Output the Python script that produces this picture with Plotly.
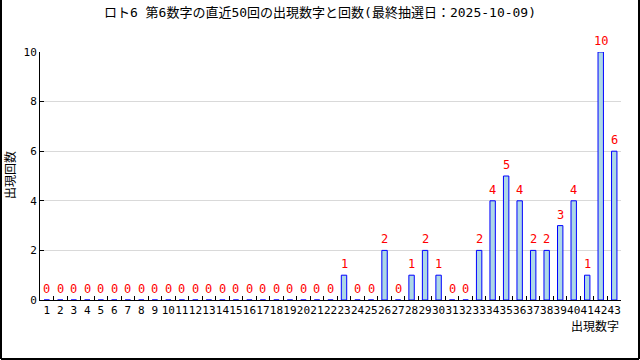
import plotly.graph_objects as go

numbers = list(range(1, 44))
tick_labels = [str(n) for n in numbers]
counts = [0]*22 + [1, 0, 0, 2, 0, 1, 2, 1, 0, 0, 2, 4, 5, 4, 2, 2, 3, 4, 1, 10, 6]

title = "ロト6 第6数字の直近50回の出現数字と回数(最終抽選日：2025-10-09)"
x_title = "出現数字"
y_title = "出現回数"

FONT = "DejaVu Sans Mono, Noto Sans CJK JP, monospace"
W, H = 640, 360
L, R, T, B = 40, 19, 52, 60
pw, ph = W - L - R, H - T - B

fig = go.Figure(go.Bar(
    x=tick_labels, y=counts, width=0.4,
    marker=dict(color="#add8e6", line=dict(color="#0000ff", width=1)),
))
for i, c in enumerate(counts):
    fig.add_annotation(x=i, y=c, text=str(c), showarrow=False, yanchor="bottom", yshift=2,
                       font=dict(color="#ff0000", size=12, family=FONT))

fig.update_layout(
    width=W, height=H, margin=dict(l=L, r=R, t=T, b=B),
    paper_bgcolor="white", plot_bgcolor="white",
    font=dict(family=FONT, size=11, color="black"),
    showlegend=False,
    title=dict(text=title, x=0.5, xanchor="center", y=1 - 12/H, yanchor="middle",
               font=dict(family=FONT, size=13, color="black")),
)
fig.update_xaxes(
    type="category", range=[-0.5, 42.5], tickson="boundaries", ticks="inside", ticklen=4,
    tickcolor="black", showline=True, linecolor="black", linewidth=1, showgrid=False,
    zeroline=False, tickfont=dict(size=11, family=FONT), tickangle=0,
)
fig.update_yaxes(
    range=[0, 10], dtick=2, ticks="inside", ticklen=4, tickcolor="black",
    showline=True, linecolor="black", linewidth=1,
    showgrid=True, gridcolor="#d9d9d9", gridwidth=1, zeroline=False,
    tickfont=dict(size=11, family=FONT),
)
fig.add_annotation(text=x_title, xref="paper", yref="paper", x=1, xanchor="right",
                   y=-(326 - (T + ph)) / ph, yanchor="middle", showarrow=False,
                   font=dict(size=12, family=FONT))
fig.add_annotation(text=y_title, xref="paper", yref="paper", x=-(L - 10) / pw, xanchor="center",
                   y=1 - (175 - T) / ph, yanchor="middle", textangle=-90, showarrow=False,
                   font=dict(size=12, family=FONT))
# outer frame (left, right, bottom)
x0p, x1p = -(L - 1) / pw, 1 + (R - 1) / pw
y0p, y1p = -(B - 1) / ph, 1 + T / ph
for xa, ya, xb, yb in [(x0p, y0p, x0p, y1p), (x1p, y0p, x1p, y1p), (x0p, y0p, x1p, y0p)]:
    fig.add_shape(type="line", xref="paper", yref="paper", x0=xa, y0=ya, x1=xb, y1=yb,
                  line=dict(color="black", width=2))

fig.write_html("out.html")
